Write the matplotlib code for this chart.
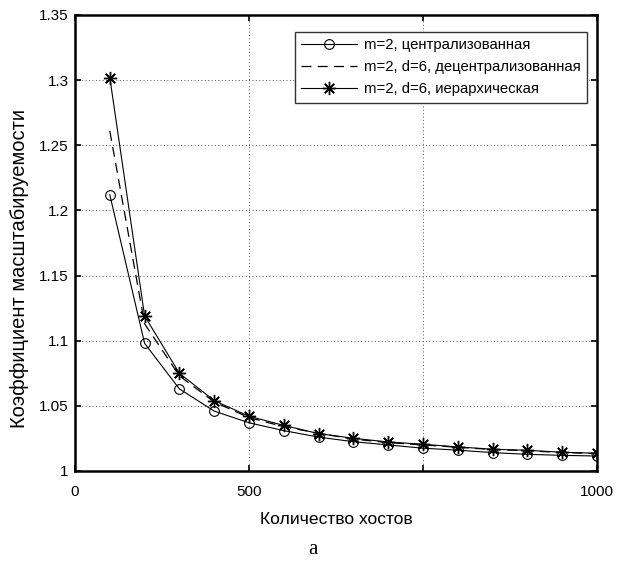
import numpy as np
import matplotlib.pyplot as plt

plt.rcParams['font.family'] = ['Liberation Sans', 'DejaVu Sans']

hosts = [100, 200, 300, 400, 500, 600, 700, 800, 900, 1000, 1100, 1200, 1300, 1400, 1500]
central = [1.212, 1.098, 1.063, 1.046, 1.037, 1.031, 1.026, 1.0225, 1.020, 1.0175,
           1.016, 1.0141, 1.0128, 1.012, 1.0115]
decentral = [1.261, 1.113, 1.073, 1.053, 1.041, 1.034, 1.029, 1.0245, 1.0218, 1.020,
             1.0182, 1.0165, 1.0155, 1.0142, 1.0134]
hier = [1.302, 1.119, 1.075, 1.054, 1.042, 1.035, 1.0287, 1.0251, 1.0223, 1.0205,
        1.0185, 1.0167, 1.0159, 1.0144, 1.0136]

labels = ['m=2, централизованная',
          'm=2, d=6, децентрализованная',
          'm=2, d=6, иерархическая']

xticks = [0, 500, 1000, 1500]
xticklabels = ['0', '500', '', '1000']
yticks = [1.0, 1.05, 1.1, 1.15, 1.2, 1.25, 1.3, 1.35]
yticklabels = ['1', '1.05', '1.1', '1.15', '1.2', '1.25', '1.3', '1.35']

fig = plt.figure(figsize=(6.21, 5.65), dpi=100)
ax = fig.add_axes([75/621, 94/565, 522/621, 456/565])

ax.plot(hosts, central, color='black', lw=0.8, marker='o', ms=7,
        mfc='none', mew=0.8, label=labels[0])
ax.plot(hosts, decentral, color='black', lw=0.9, ls=(0, (8, 5)), label=labels[1])
ax.plot(hosts, hier, color='black', lw=0.8, marker=(8, 2, 0), ms=9.5,
        mew=1.0, label=labels[2])

ax.set_xlim(0, 1500)
ax.set_ylim(1.0, 1.35)
ax.set_xticks(xticks)
ax.set_xticklabels(xticklabels)
ax.set_yticks(yticks)
ax.set_yticklabels(yticklabels)
ax.tick_params(direction='in', top=True, right=True, length=4, width=1.2,
               labelsize=11, colors='black')
ax.tick_params(axis='x', pad=10)
ax.tick_params(axis='y', pad=4.5)
for s in ax.spines.values():
    s.set_linewidth(1.8)
ax.grid(True, ls=(0, (1, 2.5)), color='#555555', lw=0.7)

ax.set_xlabel('Количество хостов', fontsize=12.6, labelpad=9.5)
ax.set_ylabel('Коэффициент масштабируемости', fontsize=14.5)
ax.yaxis.label.set_va('center')
ax.yaxis.set_label_coords(-0.1054, 0.445)

leg = ax.legend(loc='upper right', bbox_to_anchor=(0.981, 0.963), borderaxespad=0,
                fontsize=10.7, fancybox=False, framealpha=1, edgecolor='#333333',
                handlelength=3.75, handletextpad=0.5, labelspacing=0.55, borderpad=0.42)
leg.get_frame().set_linewidth(1.0)

fig.text(313/621, 1 - 550/565, 'а', family='Liberation Serif', fontsize=15,
         ha='center', va='center')

fig.savefig('out.png', dpi=100)
